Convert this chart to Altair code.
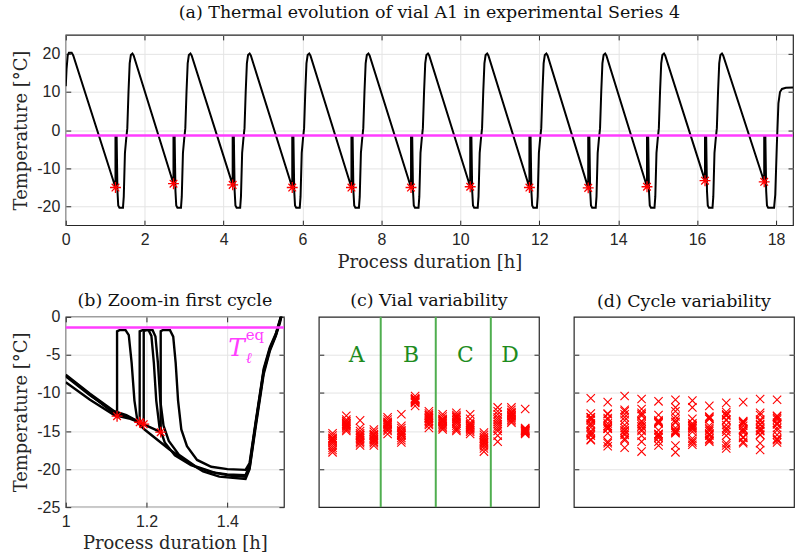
import altair as alt
import pandas as pd

# ---------------- (a) thermal evolution of vial A1 ----------------
start_time = [0.00, 0.02, 0.05, 0.08, 0.15, 0.19]
start_temp = [11.5, 16.0, 19.6, 20.3, 20.3, 19.6]

cycle_time = [
    [1.26, 1.26, 1.29, 1.31, 1.33, 1.36, 1.45, 1.47, 1.50, 1.53, 1.56, 1.59, 1.62, 1.65, 1.69, 1.72],
    [2.73, 2.73, 2.76, 2.78, 2.80, 2.83, 2.92, 2.94, 2.97, 3.00, 3.03, 3.06, 3.09, 3.12, 3.16, 3.19],
    [4.23, 4.23, 4.26, 4.28, 4.30, 4.33, 4.42, 4.44, 4.47, 4.50, 4.53, 4.56, 4.59, 4.62, 4.66, 4.69],
    [5.74, 5.74, 5.77, 5.79, 5.81, 5.84, 5.93, 5.95, 5.98, 6.01, 6.04, 6.07, 6.10, 6.13, 6.17, 6.20],
    [7.24, 7.24, 7.27, 7.29, 7.31, 7.34, 7.43, 7.45, 7.48, 7.51, 7.54, 7.57, 7.60, 7.63, 7.67, 7.70],
    [8.75, 8.75, 8.78, 8.80, 8.82, 8.85, 8.94, 8.96, 8.99, 9.02, 9.05, 9.08, 9.11, 9.14, 9.18, 9.21],
    [10.25, 10.25, 10.28, 10.30, 10.32, 10.35, 10.44, 10.46, 10.49, 10.52, 10.55, 10.58, 10.61, 10.64, 10.68, 10.71],
    [11.75, 11.75, 11.78, 11.80, 11.82, 11.85, 11.94, 11.96, 11.99, 12.02, 12.05, 12.08, 12.11, 12.14, 12.18, 12.21],
    [13.24, 13.24, 13.27, 13.29, 13.31, 13.34, 13.43, 13.45, 13.48, 13.51, 13.54, 13.57, 13.60, 13.63, 13.67, 13.70],
    [14.73, 14.73, 14.76, 14.78, 14.80, 14.83, 14.92, 14.94, 14.97, 15.00, 15.03, 15.06, 15.09, 15.12, 15.16, 15.19],
    [16.20, 16.20, 16.23, 16.25, 16.27, 16.30, 16.39, 16.41, 16.44, 16.47, 16.50, 16.53, 16.56, 16.59, 16.63, 16.66],
    [17.70, 17.70, 17.73, 17.75, 17.77, 17.80, 17.95, 17.98, 18.02, 18.06, 18.10, 18.15, 18.25, 18.43],
]
cycle_temp = [
    [-15.1, -1.8, -1.8, -16.0, -19.8, -20.4, -20.4, -17.5, -6.0, -2.5, 0.5, 10.0, 17.5, 19.7, 20.1, 19.6],
    [-14.1, -1.8, -1.8, -16.0, -19.8, -20.4, -20.4, -17.5, -6.0, -2.5, 0.5, 10.0, 17.5, 19.7, 20.1, 19.6],
    [-14.4, -1.8, -1.8, -16.0, -19.8, -20.4, -20.4, -17.5, -6.0, -2.5, 0.5, 10.0, 17.5, 19.7, 20.1, 19.6],
    [-15.1, -1.8, -1.8, -16.0, -19.8, -20.4, -20.4, -17.5, -6.0, -2.5, 0.5, 10.0, 17.5, 19.7, 20.1, 19.6],
    [-15.1, -1.8, -1.8, -16.0, -19.8, -20.4, -20.4, -17.5, -6.0, -2.5, 0.5, 10.0, 17.5, 19.7, 20.1, 19.6],
    [-15.1, -1.8, -1.8, -16.0, -19.8, -20.4, -20.4, -17.5, -6.0, -2.5, 0.5, 10.0, 17.5, 19.7, 20.1, 19.6],
    [-14.9, -1.8, -1.8, -16.0, -19.8, -20.4, -20.4, -17.5, -6.0, -2.5, 0.5, 10.0, 17.5, 19.7, 20.1, 19.6],
    [-15.1, -1.8, -1.8, -16.0, -19.8, -20.4, -20.4, -17.5, -6.0, -2.5, 0.5, 10.0, 17.5, 19.7, 20.1, 19.6],
    [-15.2, -1.8, -1.8, -16.0, -19.8, -20.4, -20.4, -17.5, -6.0, -2.5, 0.5, 10.0, 17.5, 19.7, 20.1, 19.6],
    [-14.9, -1.8, -1.8, -16.0, -19.8, -20.4, -20.4, -17.5, -6.0, -2.5, 0.5, 10.0, 17.5, 19.7, 20.1, 19.6],
    [-13.3, -1.8, -1.8, -16.0, -19.8, -20.4, -20.4, -17.5, -6.0, -2.5, 0.5, 10.0, 17.5, 19.7, 20.1, 19.6],
    [-13.6, -1.8, -1.8, -16.0, -19.8, -20.4, -20.4, -17.0, -4.0, 7.0, 10.0, 10.8, 11.1, 11.2],
]
nuc_time_a = [1.26, 2.73, 4.23, 5.74, 7.24, 8.75, 10.25, 11.75, 13.24, 14.73, 16.20, 17.70]
nuc_temp_a = [-15.1, -14.1, -14.4, -15.1, -15.1, -15.1, -14.9, -15.1, -15.2, -14.9, -13.3, -13.6]

T_eq = -1.4

# ---------------- (b) zoom-in first cycle (four vials) ----------------
b_time = [
    [1.00, 1.06, 1.12, 1.127, 1.127, 1.133, 1.148, 1.156, 1.163, 1.170, 1.178, 1.195, 1.256, 1.30, 1.34, 1.38, 1.445, 1.455, 1.47, 1.49, 1.505, 1.52, 1.53, 1.54],
    [1.00, 1.06, 1.12, 1.15, 1.183, 1.183, 1.19, 1.205, 1.212, 1.218, 1.224, 1.232, 1.245, 1.27, 1.31, 1.36, 1.40, 1.445, 1.455, 1.47, 1.49, 1.505, 1.52, 1.53, 1.54],
    [1.00, 1.06, 1.12, 1.16, 1.193, 1.193, 1.198, 1.215, 1.222, 1.228, 1.234, 1.242, 1.255, 1.28, 1.32, 1.37, 1.41, 1.445, 1.455, 1.47, 1.49, 1.505, 1.52, 1.53, 1.54],
    [1.00, 1.06, 1.12, 1.16, 1.20, 1.235, 1.235, 1.24, 1.258, 1.266, 1.272, 1.278, 1.286, 1.30, 1.325, 1.36, 1.40, 1.445, 1.455, 1.47, 1.49, 1.505, 1.52, 1.53, 1.54],
]
b_temp = [
    [-7.7, -10.2, -12.7, -13.05, -1.9, -1.75, -1.75, -2.4, -6.0, -11.0, -13.9, -14.8, -17.4, -19.0, -20.3, -21.0, -21.3, -20.0, -14.5, -7.5, -4.5, -2.5, -0.8, 1.5],
    [-7.6, -10.1, -12.4, -12.9, -13.85, -1.9, -1.75, -1.75, -2.5, -6.0, -11.0, -14.5, -16.5, -18.2, -19.5, -20.4, -20.7, -20.8, -19.5, -14.0, -7.0, -4.2, -2.3, -0.5, 1.5],
    [-8.6, -10.9, -12.9, -13.4, -14.1, -1.9, -1.75, -1.75, -2.6, -6.0, -11.0, -14.3, -16.3, -18.1, -19.6, -20.5, -20.9, -21.0, -19.8, -14.2, -7.2, -4.3, -2.4, -0.6, 1.5],
    [-7.8, -10.3, -12.5, -13.3, -14.3, -15.15, -1.9, -1.75, -1.75, -2.6, -6.0, -11.0, -14.8, -17.0, -18.8, -19.7, -20.0, -20.1, -19.2, -13.8, -6.8, -4.0, -2.2, -0.4, 1.5],
]
b_nuc_time = [1.127, 1.183, 1.193, 1.235]
b_nuc_temp = [-13.05, -13.85, -14.1, -15.15]

# ---------------- (c)/(d) nucleation temperatures: 15 vials x 12 cycles ----------------
vial_1 = [-16.1, -15.3, -17.2, -16.4, -15.9, -17.8, -16.3, -15.6, -16.9, -16.6, -17.5, -16.0]
vial_2 = [-14.2, -13.5, -15.0, -14.4, -13.8, -14.6, -14.0, -14.8, -13.0, -14.3, -13.7, -14.1]
vial_3 = [-15.6, -16.4, -13.6, -15.0, -16.9, -15.3, -16.0, -14.6, -16.6, -15.8, -15.5, -16.2]
vial_4 = [-15.4, -16.6, -16.0, -14.8, -15.8, -16.9, -15.1, -16.2, -15.6, -16.4, -15.5, -16.1]
vial_5 = [-14.0, -14.6, -13.2, -14.4, -15.4, -13.8, -14.2, -15.0, -13.5, -14.8, -14.1, -13.9]
vial_6 = [-15.2, -14.3, -16.2, -12.8, -15.6, -14.9, -16.5, -15.4, -14.6, -15.9, -15.0, -15.5]
vial_7 = [-10.7, -11.2, -10.4, -10.8, -11.1, -10.9, -11.0, -11.7, -11.3, -11.2, -10.8, -10.9]
vial_8 = [-13.4, -12.7, -14.2, -13.0, -13.8, -12.4, -14.6, -13.2, -13.6, -14.0, -12.9, -13.3]
vial_9 = [-13.6, -14.4, -12.8, -13.8, -14.0, -13.1, -14.8, -13.4, -14.2, -13.7, -14.6, -13.5]
vial_10 = [-13.2, -14.0, -14.6, -12.6, -13.6, -15.0, -13.4, -14.3, -12.9, -13.8, -14.8, -13.1]
vial_11 = [-14.5, -12.8, -14.9, -14.1, -15.4, -13.9, -14.3, -13.4, -15.1, -14.7, -14.2, -14.6]
vial_12 = [-16.2, -17.0, -15.5, -17.7, -16.4, -15.2, -16.8, -16.0, -17.3, -15.8, -16.6, -16.5]
vial_13 = [-13.2, -14.7, -12.4, -15.6, -13.8, -11.9, -14.4, -16.4, -12.8, -15.0, -13.5, -14.1]
vial_14 = [-12.7, -13.3, -12.2, -13.7, -12.9, -13.5, -11.9, -13.1, -12.5, -13.9, -12.6, -13.0]
vial_15 = [-15.0, -14.7, -15.3, -12.1, -14.9, -15.1, -14.6, -15.4, -14.8, -15.2, -15.0, -14.9]
vials = [vial_1, vial_2, vial_3, vial_4, vial_5, vial_6, vial_7, vial_8,
         vial_9, vial_10, vial_11, vial_12, vial_13, vial_14, vial_15]

group_bounds = [4.5, 8.5, 12.5]
group_labels = ["A", "B", "C", "D"]
group_label_x = [2.75, 6.7, 10.65, 13.9]
group_label_y = [-5.0, -5.0, -5.0, -5.0]

eq_label_text = ["T", "ℓ"]
eq_label_t = [1.423, 1.453]
eq_label_T = [-4.1, -5.4]
eq_label_size = [25, 15]
eq_sup_text = ["eq"]
eq_sup_t = [1.468]
eq_sup_T = [-2.4]

# ---------------- tables ----------------
ta, Ta = list(start_time), list(start_temp)
for ct, cT in zip(cycle_time, cycle_temp):
    ta += ct
    Ta += cT
df_a = pd.DataFrame({"t": ta, "T": Ta, "o": range(len(ta))})
df_nuc_a = pd.DataFrame({"t": nuc_time_a, "T": nuc_temp_a})
df_eq = pd.DataFrame({"T": [T_eq]})

rows = []
for k, (bt, bT) in enumerate(zip(b_time, b_temp)):
    for i, (x, y) in enumerate(zip(bt, bT)):
        rows.append({"t": x, "T": y, "vial": k, "o": i})
df_b = pd.DataFrame(rows)
df_nuc_b = pd.DataFrame({"t": b_nuc_time, "T": b_nuc_temp})
df_lab = pd.DataFrame({"t": eq_label_t, "T": eq_label_T, "s": eq_label_text, "fs": eq_label_size})
df_sup = pd.DataFrame({"t": eq_sup_t, "T": eq_sup_T, "s": eq_sup_text})

rows = []
for v, vals in enumerate(vials):
    for c, val in enumerate(vals):
        rows.append({"vial": v + 1, "cycle": c + 1, "T": val})
df_cd = pd.DataFrame(rows)
df_bounds = pd.DataFrame({"vial": group_bounds})
df_groups = pd.DataFrame({"vial": group_label_x, "T": group_label_y, "label": group_labels})

STAR = "M-1,0L1,0M0,-1L0,1M-0.7,-0.7L0.7,0.7M-0.7,0.7L0.7,-0.7"
XMARK = "M-1,-1L1,1M-1,1L1,-1"
SERIF = "DejaVu Serif"
MAGENTA = "#ff3dff"
lab = "'' + datum.value"
TK = dict(ticks=True, tickSize=5, tickColor="#262626", tickWidth=1, offset=-5)


def main_axis(values, title, labels=True, grid=True):
    return alt.Axis(values=values, title=title, labels=labels, grid=grid, labelExpr=lab,
                    labelOverlap=False, **TK)


def mirror_axis(values, orient):
    return alt.Axis(values=values, orient=orient, labels=False, grid=False, title=None,
                    domain=False, **TK)


# ---------------- panel (a) ----------------
sxa = alt.Scale(domain=[0, 18.43], nice=False)
sya = alt.Scale(domain=[-25, 25], nice=False)
xv_a = list(range(0, 19, 2))
yv_a = [-20, -10, 0, 10, 20]
xa = alt.X("t:Q", scale=sxa, axis=main_axis(xv_a, "Process duration [h]"))
ya = alt.Y("T:Q", scale=sya, axis=main_axis(yv_a, "Temperature [°C]"))
line_a = alt.Chart(df_a).mark_line(color="black", strokeWidth=2, clip=True).encode(x=xa, y=ya, order="o:Q")
eq_a = alt.Chart(df_eq).mark_rule(color=MAGENTA, strokeWidth=2.5).encode(y=ya)
star_a = alt.Chart(df_nuc_a).mark_point(shape=STAR, size=120, color="red", strokeWidth=1.3,
                                         filled=False, opacity=1).encode(x=xa, y=ya)
mirror_a = alt.Chart(df_nuc_a).mark_point(opacity=0).encode(
    x=alt.X("t:Q", scale=sxa, axis=mirror_axis(xv_a, "top")),
    y=alt.Y("T:Q", scale=sya, axis=mirror_axis(yv_a, "right")))
panel_a = alt.layer(alt.layer(line_a, eq_a, star_a), mirror_a).resolve_axis(
    x="independent", y="independent").properties(
    width=730, height=191,
    title=alt.TitleParams("(a) Thermal evolution of vial A1 in experimental Series 4", offset=13))

# ---------------- panel (b) ----------------
sxb = alt.Scale(domain=[1, 1.54], nice=False)
syb = alt.Scale(domain=[-25, 0], nice=False)
xv_b = [1, 1.2, 1.4]
yv_b = [-25, -20, -15, -10, -5, 0]
xb = alt.X("t:Q", scale=sxb, axis=main_axis(xv_b, "Process duration [h]"))
yb = alt.Y("T:Q", scale=syb, axis=main_axis(yv_b, "Temperature [°C]"))
line_b = alt.Chart(df_b).mark_line(color="black", strokeWidth=2.4, clip=True).encode(
    x=xb, y=yb, detail="vial:N", order="o:Q")
eq_b = alt.Chart(df_eq).mark_rule(color=MAGENTA, strokeWidth=2.5).encode(y=yb)
star_b = alt.Chart(df_nuc_b).mark_point(shape=STAR, size=120, color="red", strokeWidth=1.3,
                                         filled=False, opacity=1).encode(x=xb, y=yb)
txt_b = alt.Chart(df_lab).mark_text(font=SERIF, color=MAGENTA, fontStyle="italic").encode(
    x=xb, y=yb, text="s:N", size=alt.Size("fs:Q", scale=None, legend=None))
sup_b = alt.Chart(df_sup).mark_text(font=SERIF, color=MAGENTA, fontSize=15).encode(
    x=xb, y=yb, text="s:N")
mirror_b = alt.Chart(df_nuc_b).mark_point(opacity=0).encode(
    x=alt.X("t:Q", scale=sxb, axis=mirror_axis(xv_b, "top")),
    y=alt.Y("T:Q", scale=syb, axis=mirror_axis(yv_b, "right")))
panel_b = alt.layer(alt.layer(line_b, eq_b, star_b, txt_b, sup_b), mirror_b).resolve_axis(
    x="independent", y="independent").properties(
    width=219, height=191, title=alt.TitleParams("(b) Zoom-in first cycle", offset=-1))

# ---------------- panel (c) ----------------
syh = alt.Scale(domain=[-25, 0], nice=False)
yv_h = [-20, -15, -10, -5]
y_hidden = alt.Y("T:Q", scale=syh, axis=main_axis(yv_h, None, labels=False))
sxc = alt.Scale(domain=[0, 16], nice=False)
xc = alt.X("vial:Q", scale=sxc,
           axis=alt.Axis(labels=False, grid=False, ticks=False, title="Vials", titlePadding=10))
pts_c = alt.Chart(df_cd).mark_point(shape=XMARK, size=70, color="red", strokeWidth=1.1,
                                     filled=False, opacity=1).encode(x=xc, y=y_hidden)
rules_c = alt.Chart(df_bounds).mark_rule(color="#4fae4f", strokeWidth=2).encode(x=xc)
text_c = alt.Chart(df_groups).mark_text(font=SERIF, fontSize=22, color="#1e8c1e").encode(
    x=xc, y=y_hidden, text="label:N")
mirror_c = alt.Chart(df_groups).mark_point(opacity=0).encode(
    x=alt.X("vial:Q", scale=sxc, axis=None),
    y=alt.Y("T:Q", scale=syh, axis=mirror_axis(yv_h, "right")))
panel_c = alt.layer(alt.layer(pts_c, rules_c, text_c), mirror_c).resolve_axis(
    y="independent").properties(width=221, height=191,
                                title=alt.TitleParams("(c) Vial variability", offset=6))

# ---------------- panel (d) ----------------
sxd = alt.Scale(domain=[0, 13], nice=False)
xd = alt.X("cycle:Q", scale=sxd,
           axis=alt.Axis(labels=False, grid=False, ticks=False, title="Repeated cycles", titlePadding=10))
pts_d = alt.Chart(df_cd).mark_point(shape=XMARK, size=70, color="red", strokeWidth=1.1,
                                     filled=False, opacity=1).encode(x=xd, y=y_hidden)
mirror_d = alt.Chart(df_cd).mark_point(opacity=0).encode(
    x=alt.X("cycle:Q", scale=sxd, axis=None),
    y=alt.Y("T:Q", scale=syh, axis=mirror_axis(yv_h, "right")))
panel_d = alt.layer(pts_d, mirror_d).resolve_axis(y="independent").properties(
    width=221, height=191, title=alt.TitleParams("(d) Cycle variability", offset=6))

bottom = alt.hconcat(panel_b, panel_c, panel_d, spacing=35, bounds="flush")
chart = alt.vconcat(panel_a, bottom, spacing=92, bounds="flush").properties(
    padding={"left": 12, "top": 2, "right": 0, "bottom": 0}
).configure_view(stroke="#262626", strokeWidth=1.2).configure_axis(
    labelFont="Liberation Sans", labelFontSize=16, labelColor="#262626", labelPadding=6,
    labelOverlap=False, labelBound=False, labelFlush=False,
    titleFont=SERIF, titleFontSize=18, titleFontWeight="normal", titleColor="#262626",
    titlePadding=6, gridColor="#e4e4e4", domain=False
).configure_title(font=SERIF, fontSize=17.5, fontWeight="normal", color="#111111",
                  anchor="middle", frame="group")

chart.save("out.html", embed_options={"renderer": "svg", "actions": False})
